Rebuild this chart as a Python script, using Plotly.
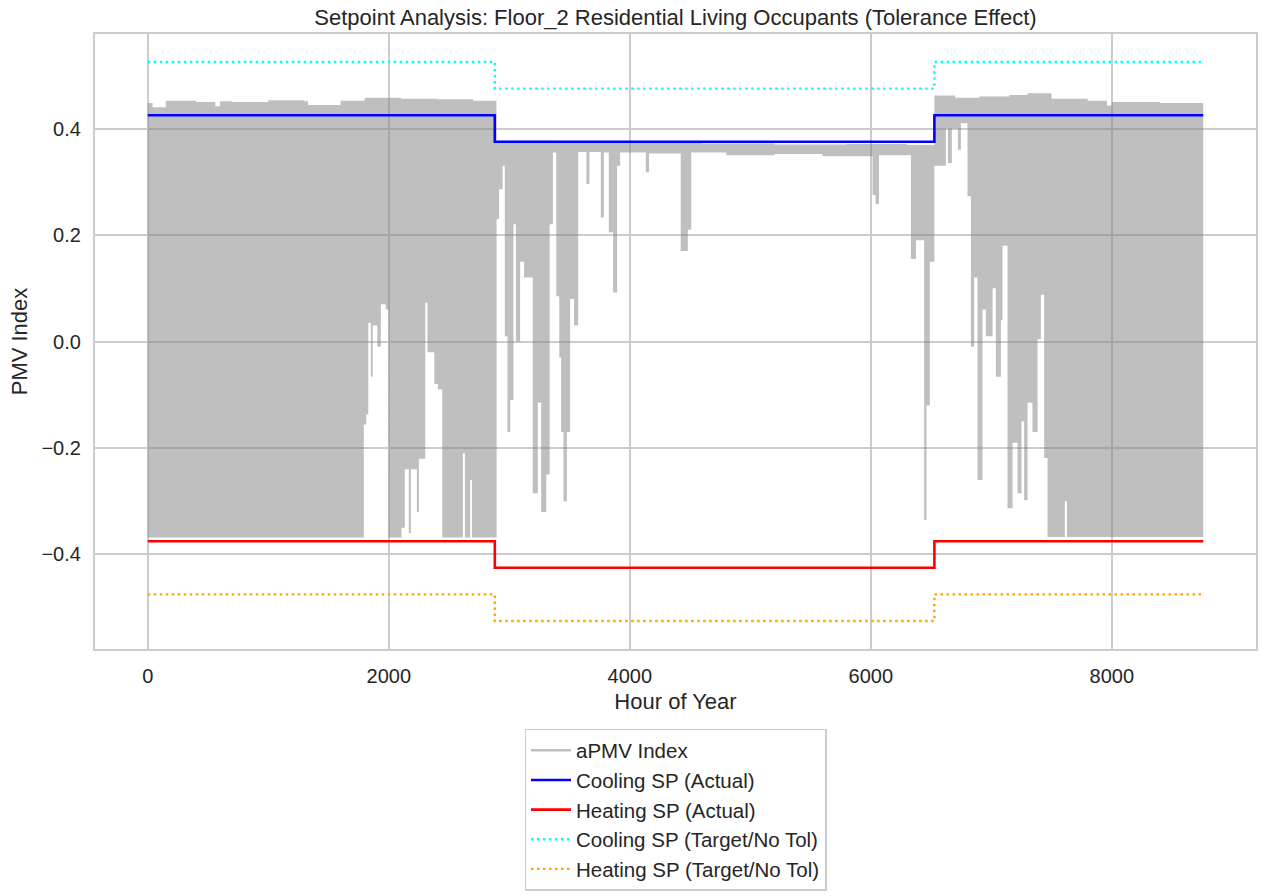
import plotly.graph_objects as go

# ---------------- data ----------------
# setpoint schedule (hour of year where each period starts, last = end of year)
period_hours = [0, 2880, 6528, 8759]
cool_actual = [0.425, 0.375, 0.425, 0.425]
heat_actual = [-0.375, -0.425, -0.375, -0.375]
cool_target = [0.525, 0.475, 0.525, 0.525]
heat_target = [-0.475, -0.525, -0.475, -0.475]

# aPMV index: envelope of the hourly series (step breakpoints, value holds until next hour)
upper_hours = [0, 40, 150, 400, 560, 600, 700, 1000, 1300, 1330, 1600, 1800, 2100, 2400,
               2700, 2893, 3400, 4000, 4600, 5200, 5800, 6300, 6528, 6700, 6900, 7150,
               7300, 7500, 7800, 7960, 8000, 8100, 8400, 8759]
upper_vals = [0.448, 0.440, 0.452, 0.450, 0.442, 0.451, 0.450, 0.453, 0.451, 0.444, 0.452,
              0.458, 0.456, 0.455, 0.452, 0.377, 0.376, 0.374, 0.372, 0.370, 0.371, 0.369,
              0.462, 0.458, 0.460, 0.463, 0.466, 0.456, 0.452, 0.443, 0.450, 0.450, 0.448,
              0.445]

lower_hours = [0, 1793, 1813, 1830, 1851, 1867, 1905, 1934, 1975, 1998,
               2105, 2133, 2166, 2183, 2233, 2250, 2303, 2321, 2378, 2407,
               2444, 2615, 2632, 2675, 2690, 2895, 2915, 2945, 2963, 2985,
               3007, 3035, 3055, 3090, 3123, 3195, 3237, 3265, 3307, 3335,
               3362, 3390, 3415, 3430, 3450, 3478, 3505, 3538, 3572, 3640,
               3665, 3760, 3785, 3826, 3862, 3895, 3920, 4133, 4160, 4423,
               4482, 4510, 4800, 5200, 5600, 6015, 6040, 6068, 6333, 6375,
               6443, 6462, 6490, 6528, 6623, 6640, 6673, 6723, 6748, 6803,
               6831, 6858, 6886, 6927, 6955, 7011, 7038, 7080, 7094, 7135,
               7177, 7218, 7251, 7273, 7301, 7342, 7384, 7412, 7439, 7467,
               7610, 7628, 8759]
lower_vals = [-0.368, -0.156, -0.137, 0.035, -0.066, 0.030, -0.010, 0.070, 0.060, -0.368,
              -0.350, -0.240, -0.360, -0.240, -0.320, -0.220, 0.073, -0.020, -0.080, -0.090,
              -0.368, -0.210, -0.368, -0.260, -0.368, 0.230, 0.286, 0.330, 0.010, -0.170,
              -0.110, 0.220, 0.000, 0.150, 0.120, -0.285, -0.115, -0.320, -0.250, 0.220,
              0.355, 0.085, -0.030, -0.170, -0.300, -0.170, 0.080, 0.030, 0.356, 0.296,
              0.356, 0.233, 0.355, 0.205, 0.092, 0.330, 0.355, 0.318, 0.353, 0.170,
              0.210, 0.355, 0.350, 0.352, 0.348, 0.275, 0.258, 0.350, 0.155, 0.190,
              -0.335, -0.120, 0.150, 0.330, 0.400, 0.335, 0.400, 0.360, 0.410, 0.273,
              -0.010, 0.120, -0.260, 0.060, 0.010, 0.100, -0.066, 0.040, 0.180, -0.313,
              -0.190, -0.285, -0.150, -0.298, -0.115, -0.170, 0.004, 0.088, -0.219, -0.367,
              -0.300, -0.367, -0.362]

x_ticks = [0, 2000, 4000, 6000, 8000]
y_ticks = [-0.4, -0.2, 0.0, 0.2, 0.4]

# ---------------- figure ----------------
FONT = "Liberation Sans, Arial, sans-serif"
TXT = "#262626"
GRID = "#cccccc"
APMV = "rgba(128,128,128,0.5)"

fig = go.Figure()

fig.add_trace(go.Scatter(x=[None], y=[None], mode="lines", name="aPMV Index",
                         line=dict(color=APMV, width=2.5)))
fig.add_trace(go.Scatter(x=upper_hours, y=upper_vals, mode="lines",
                         line=dict(width=0, shape="hv", color=APMV),
                         showlegend=False, hoverinfo="skip"))
fig.add_trace(go.Scatter(x=lower_hours, y=lower_vals, mode="lines",
                         line=dict(width=0, shape="hv", color=APMV),
                         fill="tonexty", fillcolor=APMV,
                         showlegend=False, hoverinfo="skip"))

fig.add_trace(go.Scatter(x=period_hours, y=cool_actual, mode="lines", name="Cooling SP (Actual)",
                         line=dict(color="#0000ff", width=2.6, shape="hv")))
fig.add_trace(go.Scatter(x=period_hours, y=heat_actual, mode="lines", name="Heating SP (Actual)",
                         line=dict(color="#ff0000", width=2.6, shape="hv")))
fig.add_trace(go.Scatter(x=period_hours, y=cool_target, mode="lines", name="Cooling SP (Target/No Tol)",
                         line=dict(color="#00ffff", width=2.4, shape="hv", dash="2.5px,3.5px")))
fig.add_trace(go.Scatter(x=period_hours, y=heat_target, mode="lines", name="Heating SP (Target/No Tol)",
                         line=dict(color="#ffa500", width=2.4, shape="hv", dash="2.5px,3.5px")))

axis_common = dict(
    showgrid=True, gridcolor=GRID, gridwidth=1.5,
    zeroline=False, showline=True, mirror=True, linecolor=GRID, linewidth=2.2,
    ticks="outside", ticklen=8, tickcolor="rgba(0,0,0,0)",
    tickfont=dict(size=20, color=TXT, family=FONT),
)

fig.update_layout(
    width=1266, height=896,
    margin=dict(l=95, r=10, t=34, b=247, autoexpand=False),
    paper_bgcolor="white", plot_bgcolor="white",
    font=dict(family=FONT, color=TXT, size=20),
    title=dict(text="Setpoint Analysis: Floor_2 Residential Living Occupants (Tolerance Effect)",
               x=0.5, xref="paper", xanchor="center",
               y=1 - 17 / 896, yref="container", yanchor="middle",
               font=dict(size=22, color=TXT, family=FONT)),
    xaxis=dict(range=[-438, 9197], tickvals=x_ticks, tickformat="d",
               title=dict(text="Hour of Year", font=dict(size=22, color=TXT), standoff=8),
               **axis_common),
    yaxis=dict(range=[-0.5775, 0.5775], tickvals=y_ticks, tickformat=".1f",
               title=dict(text="PMV Index", font=dict(size=22, color=TXT), standoff=8),
               **axis_common),
    legend=dict(x=0.5, xanchor="center", y=-0.130, yanchor="top", traceorder="normal",
                itemwidth=40,
                bordercolor=GRID, borderwidth=1.5, bgcolor="white",
                font=dict(size=20.5, color=TXT, family=FONT)),
    showlegend=True,
)

fig.write_html("out.html")
